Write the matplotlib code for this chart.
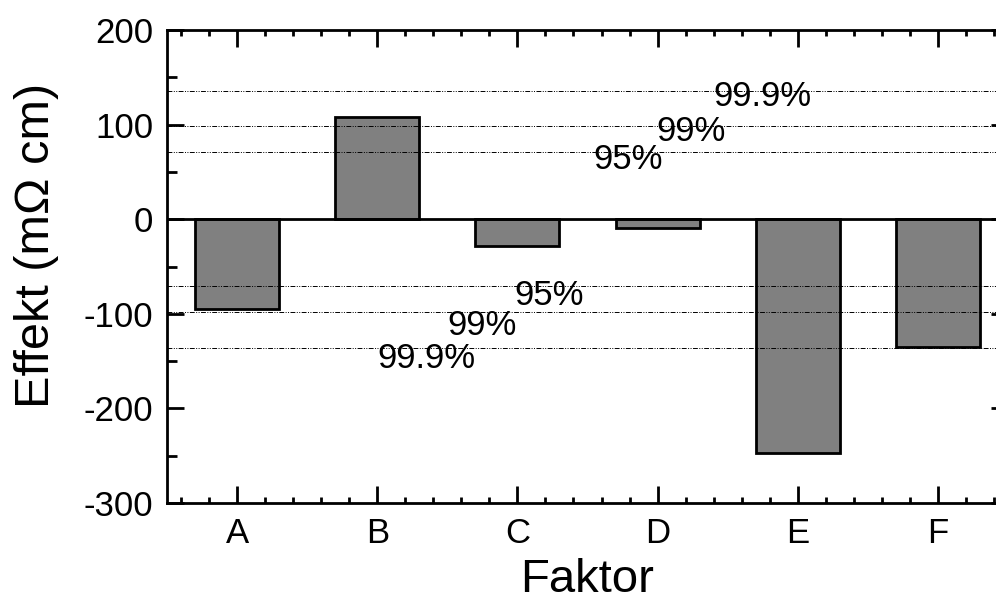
import matplotlib
matplotlib.use("Agg")
import matplotlib.pyplot as plt
import numpy as np
from matplotlib.ticker import MultipleLocator

plt.rcParams['font.family'] = ['Liberation Sans', 'DejaVu Sans']
plt.rcParams['axes.unicode_minus'] = False

faktoren = ["A", "B", "C", "D", "E", "F"]
effekte = [-95, 108, -28, -9.5, -247, -135]

# Signifikanzgrenzen (95 / 99 / 99.9 %)
grenzen = [71, 98.5, 136]
grenz_labels = ["95%", "99%", "99.9%"]
# Beschriftungspositionen oben / unten (x in Faktor-Einheiten, y in mOhm cm)
label_x_oben = [2.54, 2.99, 3.40]
label_y_oben = [53, 83, 120]
label_x_unten = [1.98, 1.50, 1.00]
label_y_unten = [-91, -122, -157]

fig = plt.figure(figsize=(9.96, 6.07), dpi=100)
ax = fig.add_axes([167 / 996, 104 / 607, 841 / 996, 473 / 607])

x = np.arange(len(faktoren))
ax.bar(x, effekte, width=0.6, color='#808080', edgecolor='black', linewidth=2.0, zorder=2)
ax.axhline(0, color='black', linewidth=2.0, zorder=3)

for g in grenzen:
    for s in (1, -1):
        ax.axhline(s * g, color='black', linewidth=0.7,
                   linestyle=(0, (5, 1.5, 1, 1.5, 1, 1.5)), zorder=4)

for lab, xx, yy in zip(grenz_labels, label_x_oben, label_y_oben):
    ax.text(xx, yy, lab, fontsize=25, ha='left', va='baseline', zorder=5)
for lab, xx, yy in zip(grenz_labels, label_x_unten, label_y_unten):
    ax.text(xx, yy, lab, fontsize=25, ha='left', va='baseline', zorder=5)

ax.set_xlim(-0.5, 5.5)
ax.set_ylim(-300, 200)
ax.set_xticks(x)
ax.set_xticklabels(faktoren)
ax.xaxis.set_minor_locator(MultipleLocator(0.2))
ax.yaxis.set_major_locator(MultipleLocator(100))
ax.yaxis.set_minor_locator(MultipleLocator(50))

ax.tick_params(which='both', direction='in', top=True, right=True, width=2.0)
ax.tick_params(which='major', length=12, labelsize=25)
ax.tick_params(axis='y', which='minor', length=7.5)
ax.tick_params(axis='x', which='minor', length=4)
ax.tick_params(axis='y', which='major', pad=10)
ax.tick_params(axis='x', which='major', pad=10)

for sp in ax.spines.values():
    sp.set_linewidth(2.0)

ax.set_xlabel('Faktor', fontsize=34, labelpad=6)
fig.text(37 / 996, 1 - 245 / 607, 'Effekt (m\u03a9 cm)', fontsize=35,
         rotation=90, ha='center', va='center')

fig.savefig('out.png', dpi=100, facecolor='white')
